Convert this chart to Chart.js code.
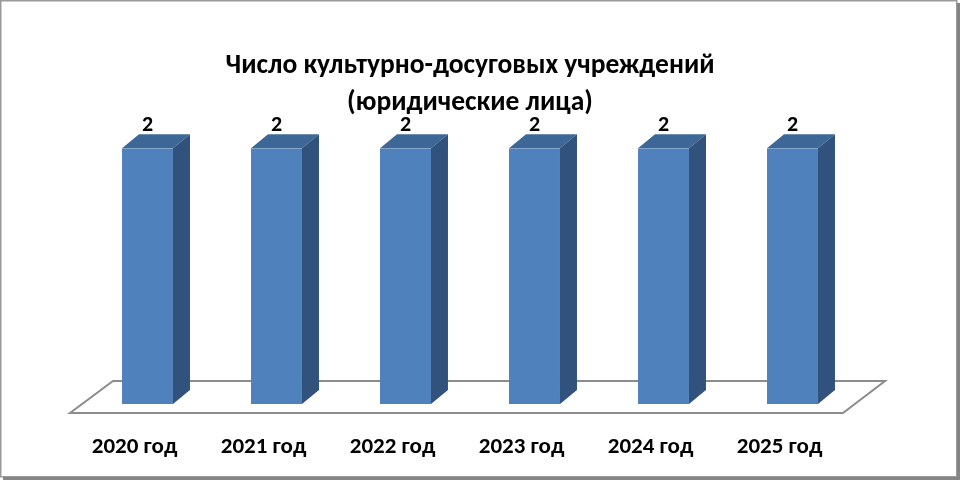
<!DOCTYPE html>
<html>
<head>
<meta charset="utf-8">
<script src="https://cdn.jsdelivr.net/npm/chart.js@4"></script>
<style>
  html, body { margin: 0; padding: 0; background: #fff; }
  #wrap { width: 960px; height: 480px; position: relative; }
</style>
</head>
<body>
<div id="wrap"><canvas id="chart" width="960" height="480"></canvas></div>
<script>
const years = ['2020 год', '2021 год', '2022 год', '2023 год', '2024 год', '2025 год'];
const counts = [2, 2, 2, 2, 2, 2];
const titleLines = ['Число культурно-досуговых учреждений', '(юридические лица)'];

const FONT = 'Carlito, Calibri, Lato, sans-serif';
const FRONT = '#4F81BD';
const SIDE = '#30527C';
const TOP = '#3D6797';
const DX = 17, DY = 14; // depth of the 3d columns

// frame with a shadow, like the office chart border
const framePlugin = {
    id: 'frame',
    beforeDraw(chart) {
        const ctx = chart.ctx;
        ctx.save();
        ctx.fillStyle = '#fff';
        ctx.fillRect(0, 0, 960, 480);
        ctx.restore();
    },
    afterDraw(chart) {
        const ctx = chart.ctx;
        ctx.save();
        ctx.strokeStyle = '#9a9a9a';
        ctx.lineWidth = 1.5;
        ctx.strokeRect(0.75, 0.75, 956, 476);
        ctx.fillStyle = '#858585';
        ctx.fillRect(957, 3, 3, 477);
        ctx.fillRect(3, 477, 957, 3);
        ctx.restore();
    }
};

// floor of the 3d plot + side and top faces of the columns
const floorPlugin = {
    id: 'floor',
    beforeDatasetsDraw(chart) {
        const { ctx, chartArea } = chart;
        const base = chart.scales.y.getPixelForValue(0);
        ctx.save();
        ctx.beginPath();
        ctx.moveTo(chartArea.left - 13, base + 9);
        ctx.lineTo(chartArea.left + 30, base - 23);
        ctx.lineTo(chartArea.right + 28, base - 23);
        ctx.lineTo(chartArea.right - 14, base + 9);
        ctx.closePath();
        ctx.fillStyle = '#fff';
        ctx.fill();
        ctx.strokeStyle = '#8c8c8c';
        ctx.lineWidth = 2;
        ctx.stroke();
        ctx.restore();
    },
    afterDatasetsDraw(chart) {
        const ctx = chart.ctx;
        const meta = chart.getDatasetMeta(0);
        ctx.save();
        meta.data.forEach((bar, i) => {
            const l = bar.x - bar.width / 2, r = bar.x + bar.width / 2;
            const t = bar.y, b = bar.base;
            ctx.fillStyle = TOP;
            ctx.beginPath();
            ctx.moveTo(l, t);
            ctx.lineTo(l + DX, t - DY);
            ctx.lineTo(r + DX, t - DY);
            ctx.lineTo(r, t);
            ctx.closePath();
            ctx.fill();
            ctx.fillStyle = SIDE;
            ctx.beginPath();
            ctx.moveTo(r, t);
            ctx.lineTo(r + DX, t - DY);
            ctx.lineTo(r + DX, b - DY);
            ctx.lineTo(r, b);
            ctx.closePath();
            ctx.fill();
            // value label
            ctx.fillStyle = '#000';
            ctx.font = 'bold 22px ' + FONT;
            ctx.textAlign = 'center';
            ctx.textBaseline = 'alphabetic';
            ctx.fillText(String(counts[i]), bar.x, t - 17);
        });
        ctx.restore();
    }
};

new Chart(document.getElementById('chart'), {
    type: 'bar',
    data: {
        labels: years,
        datasets: [{
            data: counts,
            backgroundColor: FRONT,
            borderWidth: 0,
            barPercentage: 0.79,
            categoryPercentage: 0.5
        }]
    },
    options: {
        responsive: false,
        animation: false,
        layout: { padding: { left: 83, right: 103, top: 0, bottom: 0 } },
        plugins: {
            legend: { display: false },
            tooltip: { enabled: false },
            title: {
                display: true,
                text: titleLines,
                color: '#000',
                font: { family: FONT, size: 27.5, weight: 'bold', lineHeight: 1.37 },
                padding: { top: 47, bottom: 26 }
            }
        },
        scales: {
            x: {
                grid: { display: false },
                border: { display: false },
                ticks: {
                    color: '#000',
                    font: { family: FONT, size: 23, weight: 'bold' },
                    padding: 21,
                    labelOffset: -13,
                    maxRotation: 0
                },
                afterFit(scale) { scale.height = 76; }
            },
            y: {
                display: false,
                min: 0,
                max: 2
            }
        }
    },
    plugins: [framePlugin, floorPlugin]
});
</script>
</body>
</html>
